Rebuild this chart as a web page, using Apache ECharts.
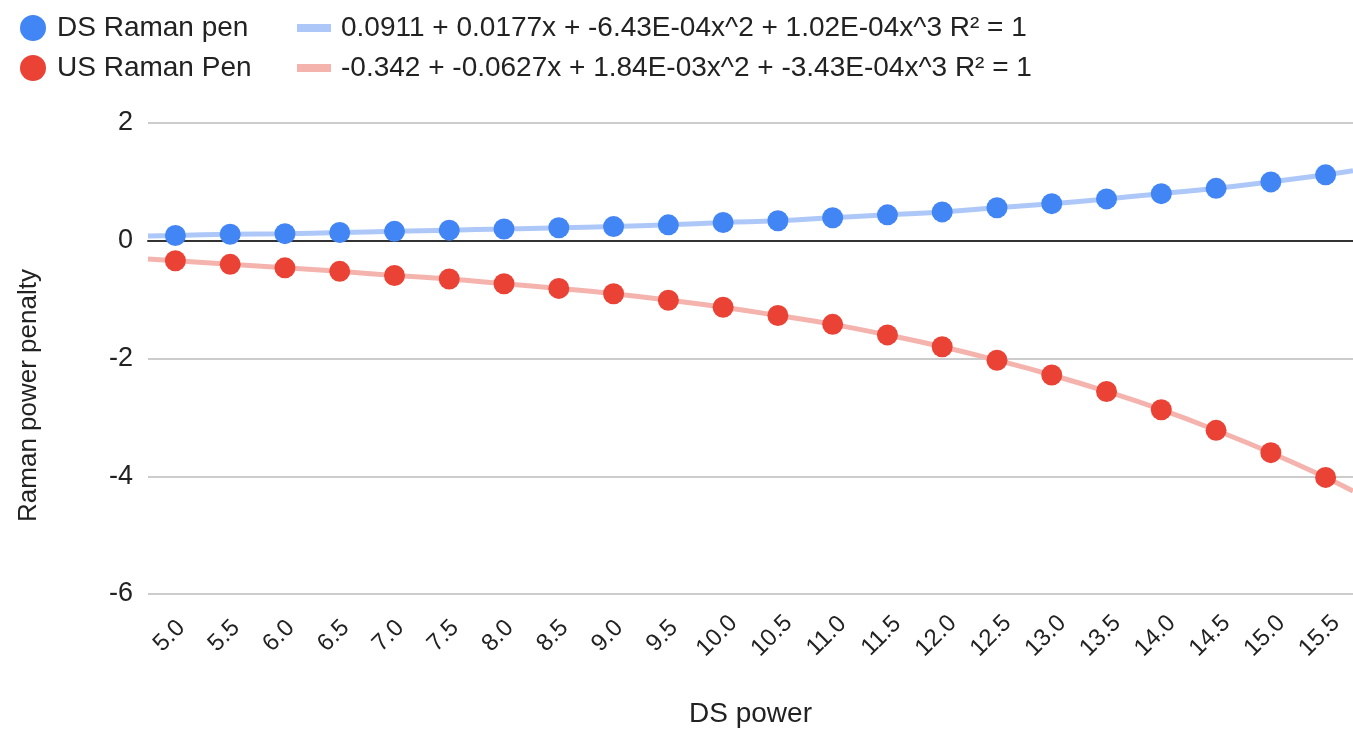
<!DOCTYPE html>
<html>
<head>
<meta charset="utf-8">
<script src="https://cdn.jsdelivr.net/npm/echarts@6/dist/echarts.min.js"></script>
<style>
  html, body { margin: 0; padding: 0; background: #fff; }
  #chartBox { width: 1353px; height: 733px; }
</style>
</head>
<body>
<div id="chartBox"></div>
<script>
// x categories (DS power)
var powers = ['5.0', '5.5', '6.0', '6.5', '7.0', '7.5', '8.0', '8.5', '9.0', '9.5', '10.0',
  '10.5', '11.0', '11.5', '12.0', '12.5', '13.0', '13.5', '14.0', '14.5', '15.0', '15.5'];

var dsPen = [0.09, 0.11, 0.12, 0.14, 0.16, 0.18, 0.20, 0.22, 0.24, 0.27, 0.31,
  0.34, 0.39, 0.44, 0.49, 0.56, 0.63, 0.71, 0.80, 0.89, 1.00, 1.12];
var usPen = [-0.34, -0.40, -0.46, -0.52, -0.59, -0.65, -0.73, -0.81, -0.90, -1.01, -1.13,
  -1.27, -1.42, -1.60, -1.80, -2.03, -2.28, -2.56, -2.87, -3.22, -3.60, -4.02];

// trendline ends where it meets the plot edges (left, right)
var dsTrendEnds = [0.08, 1.19];
var usTrendEnds = [-0.31, -4.25];

var dsTrendName = '0.0911 + 0.0177x + -6.43E-04x^2 + 1.02E-04x^3 R² = 1';
var usTrendName = '-0.342 + -0.0627x + 1.84E-03x^2 + -3.43E-04x^3 R² = 1';

var yTicks = { min: -6, max: 2, interval: 2 };

var FONT = 'Liberation Sans, Arial, sans-serif';

function trendData(points, ends) {
  var out = [[-0.5, ends[0]]];
  for (var i = 0; i < points.length; i++) {
    out.push([i, points[i]]);
  }
  out.push([points.length - 0.5, ends[1]]);
  return out;
}

var chart = echarts.init(document.getElementById('chartBox'));

var option = {
  animation: false,
  textStyle: { fontFamily: FONT },
  legend: [{
    data: ['DS Raman pen', 'US Raman Pen'],
    orient: 'vertical',
    left: 15,
    top: 8,
    icon: 'circle',
    itemWidth: 26,
    itemHeight: 26,
    itemGap: 10,
    textStyle: { fontSize: 28, color: '#222', lineHeight: 30, padding: [0, 0, 0, 6], fontFamily: FONT }
  }, {
    data: [dsTrendName, usTrendName],
    orient: 'vertical',
    left: 292,
    top: 8,
    icon: 'rect',
    itemWidth: 34,
    itemHeight: 8,
    itemGap: 10,
    textStyle: { fontSize: 28, color: '#222', lineHeight: 30, padding: [0, 0, 0, 5], fontFamily: FONT }
  }],
  grid: {
    left: 148,
    top: 123,
    width: 1210,
    bottom: 135
  },
  xAxis: [{
    type: 'category',
    data: powers,
    name: 'DS power',
    nameLocation: 'middle',
    nameGap: 106,
    nameTextStyle: { fontSize: 28, color: '#222', fontFamily: FONT },
    axisLine: { show: false, onZero: false },
    axisTick: { show: false },
    splitLine: { show: false },
    axisLabel: {
      rotate: 45,
      align: 'center',
      verticalAlign: 'middle',
      margin: 36,
      fontSize: 24,
      color: '#222',
      fontFamily: FONT,
      formatter: function (v) { return v + '{s|}'; },
      rich: { s: { width: 17 } }
    }
  }, {
    type: 'value',
    min: -0.5,
    max: powers.length - 0.5,
    show: true,
    axisLine: { show: true, onZero: true, lineStyle: { color: '#333', width: 2 } },
    axisTick: { show: false },
    axisLabel: { show: false },
    splitLine: { show: false }
  }],
  yAxis: {
    type: 'value',
    min: yTicks.min,
    max: yTicks.max,
    interval: yTicks.interval,
    name: 'Raman power penalty',
    nameLocation: 'middle',
    nameGap: 106,
    nameTextStyle: { fontSize: 26, color: '#222', padding: [0, 74, 0, 0], fontFamily: FONT },
    axisLine: { show: false },
    axisTick: { show: false },
    axisLabel: { fontSize: 27, color: '#222', margin: 15, fontFamily: FONT },
    splitLine: { lineStyle: { color: '#cccccc', width: 2 } }
  },
  series: [{
    name: dsTrendName,
    type: 'line',
    xAxisIndex: 1,
    data: trendData(dsPen, dsTrendEnds),
    smooth: true,
    showSymbol: false,
    color: '#adc8f8',
    lineStyle: { width: 5, color: '#adc8f8' },
    z: 1
  }, {
    name: usTrendName,
    type: 'line',
    xAxisIndex: 1,
    data: trendData(usPen, usTrendEnds),
    smooth: true,
    showSymbol: false,
    color: '#f5b3ae',
    lineStyle: { width: 5, color: '#f5b3ae' },
    z: 1
  }, {
    name: 'DS Raman pen',
    type: 'scatter',
    data: dsPen,
    symbolSize: 21,
    itemStyle: { color: '#4285f4', opacity: 1 },
    z: 3
  }, {
    name: 'US Raman Pen',
    type: 'scatter',
    data: usPen,
    symbolSize: 21,
    itemStyle: { color: '#ea4335', opacity: 1 },
    z: 3
  }]
};

chart.setOption(option);
</script>
</body>
</html>
